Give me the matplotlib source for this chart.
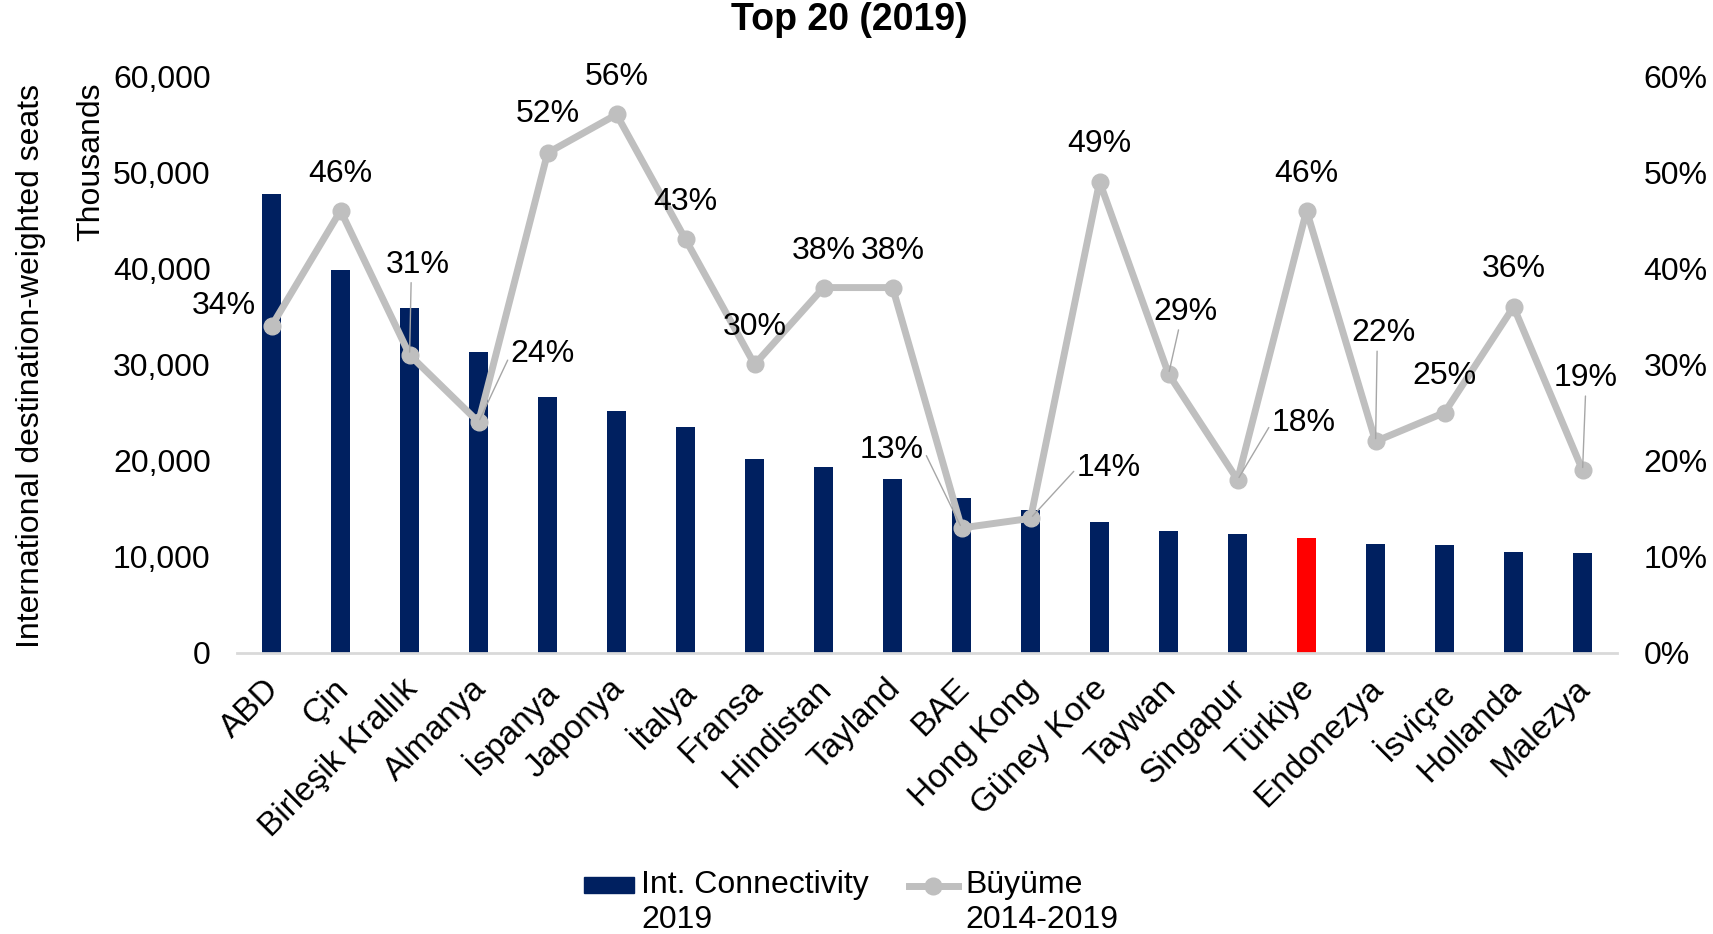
import numpy as np
import matplotlib.pyplot as plt
from matplotlib.patches import Patch, Rectangle
from matplotlib.lines import Line2D
from matplotlib.ticker import FuncFormatter
from matplotlib.transforms import ScaledTranslation

plt.rcParams['font.family'] = ['Liberation Sans', 'DejaVu Sans']

ulkeler = ['ABD', 'Çin', 'Birleşik Krallık', 'Almanya', 'İspanya', 'Japonya',
           'İtalya', 'Fransa', 'Hindistan', 'Tayland', 'BAE', 'Hong Kong',
           'Güney Kore', 'Taywan', 'Singapur', 'Türkiye', 'Endonezya',
           'İsviçre', 'Hollanda', 'Malezya']
# koltuk kapasitesi (bin)
baglanti_2019 = [47700, 39800, 35900, 31350, 26600, 25200, 23550, 20200, 19300, 18050,
                 16100, 14850, 13600, 12700, 12350, 12000, 11350, 11250, 10450, 10400]
# 2014-2019 büyüme (%)
buyume = [34, 46, 31, 24, 52, 56, 43, 30, 38, 38, 13, 14, 49, 29, 18, 46, 22, 25, 36, 19]

# etiket kaydırmaları (piksel); kılavuz çizgisinin etiketten çıktığı nokta
etiket_ofset = [(-48, 20), (0, 37), (8, 90), (64, 68), (0, 39), (0, 37), (0, 37), (0, 37),
                (0, 37), (0, 37), (-70, 78), (78, 50), (0, 38), (17, 62), (66, 57),
                (0, 37), (8, 108), (0, 37), (0, 38), (3, 92)]
kilavuz = [None, None, (0.4, 0), (0, 0.5), None, None, None, None, None, None,
           (1, 0.5), (0, 0.5), None, (0.4, 0), (0, 0.5), None, (0.4, 0), None, None, (0.5, 0)]

lacivert = '#002060'
gri = '#BFBFBF'
renkler = ['#FF0000' if u == 'Türkiye' else lacivert for u in ulkeler]

fig = plt.figure(figsize=(17.13, 9.34), dpi=100)
ax = fig.add_axes([0.1384, 0.3009, 0.8056, 0.6177])
x = np.arange(len(ulkeler))

ax.bar(x, baglanti_2019, width=0.27, color=renkler, zorder=2)
ax.set_xlim(-0.5, len(ulkeler) - 0.5)
ax.set_ylim(0, 60000)
ax.set_yticks(np.arange(0, 60001, 10000))
ax.yaxis.set_major_formatter(FuncFormatter(lambda v, p: f'{int(v):,}'))
ax.tick_params(axis='y', length=0, labelsize=23, pad=19)
ax.tick_params(axis='x', length=0, pad=6)
ax.set_xticks(x)
ax.set_xticklabels(ulkeler, rotation=45, ha='right', va='top', rotation_mode='anchor', fontsize=24)
kaydir = ScaledTranslation(-8 / 100, -12 / 100, fig.dpi_scale_trans)
for etiket in ax.get_xticklabels():
    etiket.set_transform(etiket.get_transform() + kaydir)
for s in ['top', 'right', 'left']:
    ax.spines[s].set_visible(False)
ax.spines['bottom'].set_color('#D9D9D9')
ax.spines['bottom'].set_linewidth(2)

ax2 = ax.twinx()
ax2.plot(x, np.array(buyume) / 100, color=gri, lw=5, marker='o', markersize=12, zorder=3)
ax2.set_ylim(0, 0.6)
ax2.set_yticks(np.arange(0, 0.61, 0.1))
ax2.yaxis.set_major_formatter(FuncFormatter(lambda v, p: f'{round(v * 100)}%'))
ax2.tick_params(axis='y', length=0, labelsize=23, pad=19)
for s in ['top', 'right', 'left', 'bottom']:
    ax2.spines[s].set_visible(False)

for i, b in enumerate(buyume):
    ok = None
    if kilavuz[i] is not None:
        ok = dict(arrowstyle='-', color='#A6A6A6', lw=1, shrinkA=0, shrinkB=2, relpos=kilavuz[i])
    ax2.annotate(f'{b}%', xy=(i, b / 100), xytext=etiket_ofset[i], textcoords='offset pixels',
                 ha='center', va='center', fontsize=23, arrowprops=ok)

fig.text(0.4956, 0.979, 'Top 20 (2019)', ha='center', va='center', fontsize=27, fontweight='bold')
fig.text(0.018, 0.608, 'International destination-weighted seats', rotation=90,
         ha='center', va='center', fontsize=23)
fig.text(0.053, 0.827, 'Thousands', rotation=90, ha='center', va='center', fontsize=23)

tutamaclar = [Patch(color=lacivert),
              Line2D([0], [0], color=gri, lw=5, marker='o', markersize=12)]
leg = fig.legend(tutamaclar, ['Int. Connectivity\n2019', 'Büyüme\n2014-2019'],
                 loc='center', bbox_to_anchor=(0.497, 0.034), ncol=2, frameon=False,
                 fontsize=23, handlelength=1.55, handleheight=0.42, handletextpad=0.22,
                 columnspacing=1.25, borderpad=0)
# işaretleri iki satırlık etiketin ilk satırına hizala
yukari = 12.6
for h in leg.legend_handles:
    if isinstance(h, Rectangle):
        h.set_y(h.get_y() + yukari)
    else:
        h.set_ydata(np.asarray(h.get_ydata()) + yukari)

fig.savefig('out.png', dpi=100)
